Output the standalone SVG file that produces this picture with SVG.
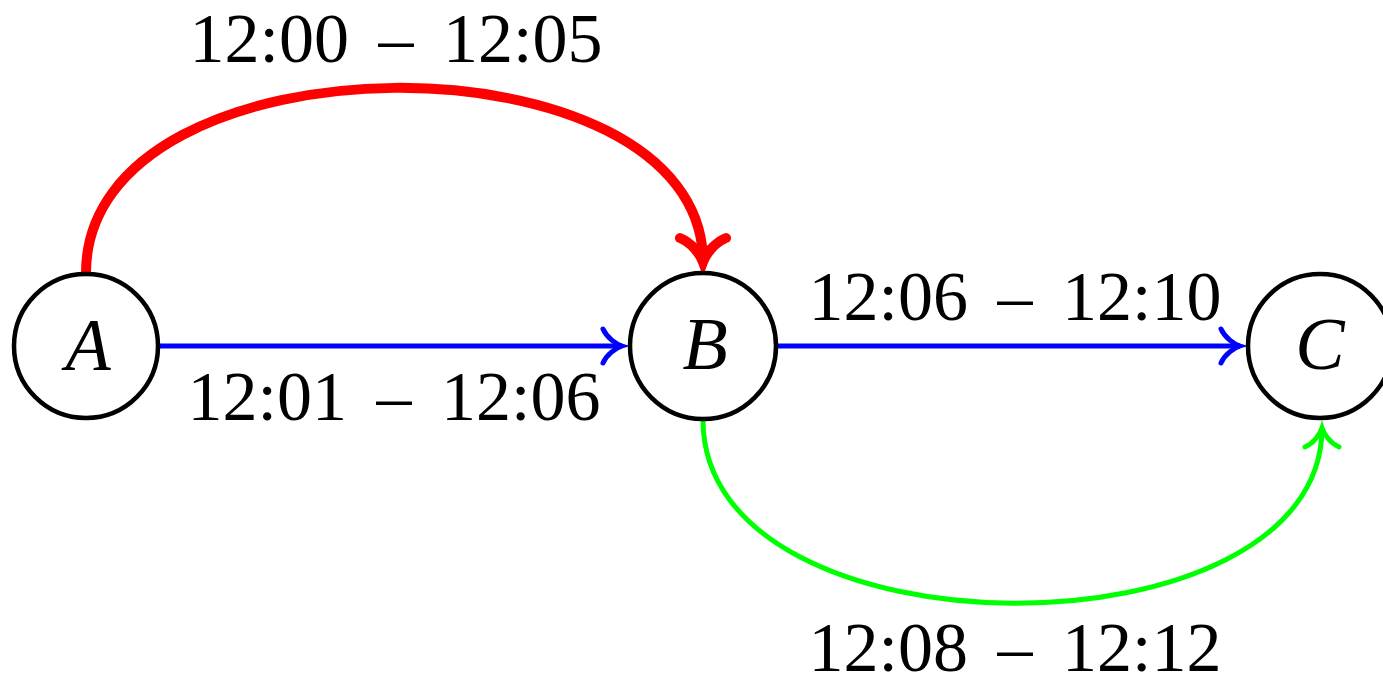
<svg xmlns="http://www.w3.org/2000/svg" width="1383" height="679" viewBox="0 0 1383 679">
<style>
.node{fill:#fff;stroke:#000;stroke-width:4.5}
.nl{font-family:"Liberation Serif","DejaVu Serif",serif;font-style:italic;font-size:74px;text-anchor:middle}
.lbl{font-family:"Liberation Serif","DejaVu Serif",serif;font-size:70px;word-spacing:12px;text-anchor:middle;fill:#000}
.edge{fill:none;stroke-linecap:butt}
</style>
<defs>
<marker id="arrB" markerUnits="userSpaceOnUse" orient="auto" refX="0" refY="0" markerWidth="60" markerHeight="60" viewBox="-30 -30 60 60" overflow="visible">
<path d="M -19 -17 C -15 -8, -6 -2, 0 0 C -6 2, -15 8, -19 17" fill="none" stroke="#0000ff" stroke-width="5" stroke-linecap="round"/>
</marker>
<marker id="arrG" markerUnits="userSpaceOnUse" orient="auto" refX="0" refY="0" markerWidth="60" markerHeight="60" viewBox="-30 -30 60 60" overflow="visible">
<path d="M -19 -17 C -15 -8, -6 -2, 0 0 C -6 2, -15 8, -19 17" fill="none" stroke="#00ff00" stroke-width="5" stroke-linecap="round"/>
</marker>
<marker id="arrR" markerUnits="userSpaceOnUse" orient="auto" refX="0" refY="0" markerWidth="80" markerHeight="80" viewBox="-40 -40 80 80" overflow="visible">
<path d="M -24 -23 C -19 -11, -8 -3, 0 0 C -8 3, -19 11, -24 23" fill="none" stroke="#ff0000" stroke-width="10" stroke-linecap="round"/>
</marker>
</defs>
<g id="connectors">
<path class="edge" d="M 86 273 C 86 28, 703 28, 703 262" stroke="#ff0000" stroke-width="10" marker-end="url(#arrR)"/>
<path class="edge" d="M 158 346 L 622 346" stroke="#0000ff" stroke-width="5" marker-end="url(#arrB)"/>
<path class="edge" d="M 776 346 L 1240 346" stroke="#0000ff" stroke-width="5" marker-end="url(#arrB)"/>
<path class="edge" d="M 703 420 C 703 663, 1322 663, 1322 428" stroke="#00ff00" stroke-width="5" marker-end="url(#arrG)"/>
</g>
<g id="labels">
<text class="lbl" x="396" y="62">12:00 – 12:05</text>
<text class="lbl" x="394" y="420">12:01 – 12:06</text>
<text class="lbl" x="1015" y="320">12:06 – 12:10</text>
<text class="lbl" x="1015" y="671">12:08 – 12:12</text>
</g>
<g id="node-A">
<circle class="node" cx="86" cy="346" r="72"/>
<text class="nl" x="88" y="370">A</text>
</g>
<g id="node-B">
<circle class="node" cx="703" cy="346" r="73"/>
<text class="nl" x="705" y="369">B</text>
</g>
<g id="node-C">
<circle class="node" cx="1320" cy="346" r="72"/>
<text class="nl" x="1320" y="369">C</text>
</g>
</svg>
